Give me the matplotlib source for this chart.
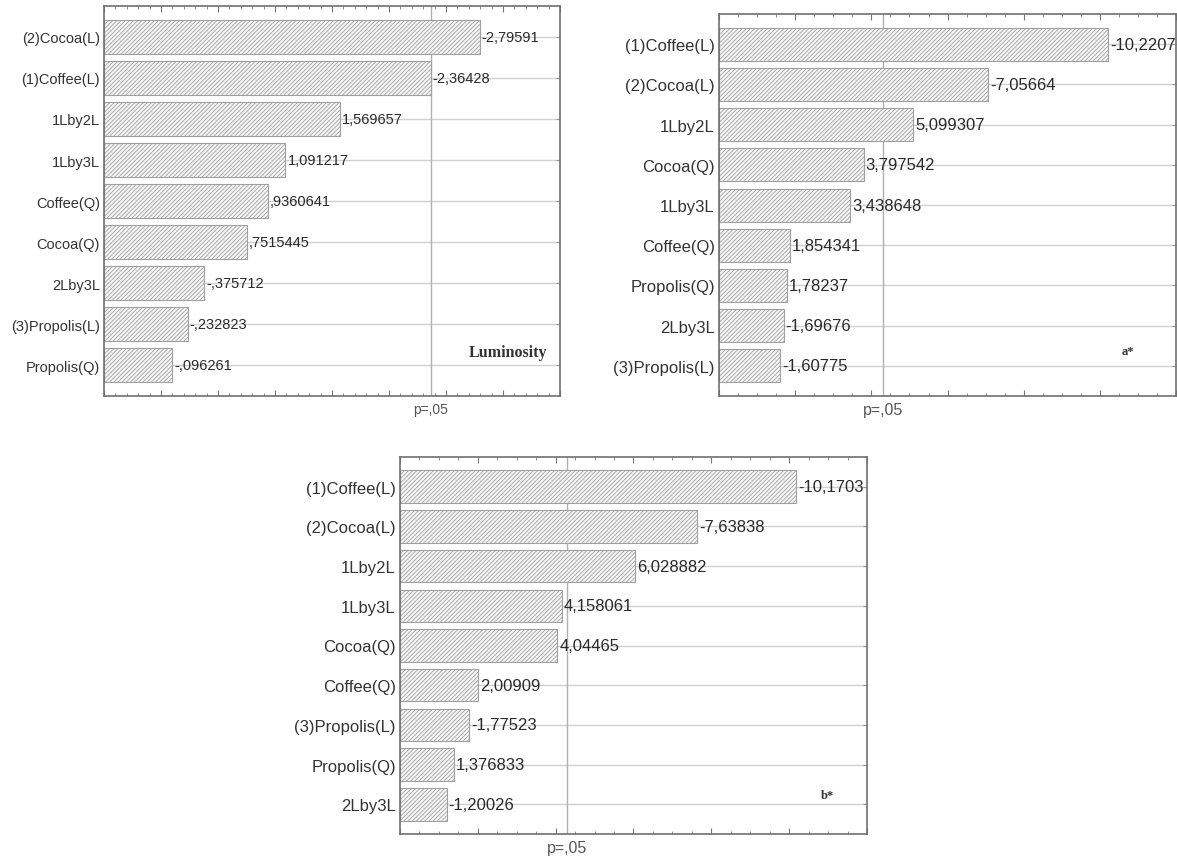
import numpy as np
import matplotlib
matplotlib.use("Agg")
import matplotlib.pyplot as plt
from matplotlib.ticker import MultipleLocator
import matplotlib.transforms as mtransforms

plt.rcParams['font.family'] = ['Liberation Sans', 'DejaVu Sans']
plt.rcParams['hatch.linewidth'] = 0.6
plt.rcParams['hatch.color'] = '#959595'

# Pareto charts of standardized effects (absolute value drawn, signed value printed)
lum_terms = ['(2)Cocoa(L)', '(1)Coffee(L)', '1Lby2L', '1Lby3L', 'Coffee(Q)',
             'Cocoa(Q)', '2Lby3L', '(3)Propolis(L)', 'Propolis(Q)']
lum_effects = [-2.79591, -2.36428, 1.569657, 1.091217, 0.9360641,
               0.7515445, -0.375712, -0.232823, -0.096261]

a_terms = ['(1)Coffee(L)', '(2)Cocoa(L)', '1Lby2L', 'Cocoa(Q)', '1Lby3L',
           'Coffee(Q)', 'Propolis(Q)', '2Lby3L', '(3)Propolis(L)']
a_effects = [-10.2207, -7.05664, 5.099307, 3.797542, 3.438648,
             1.854341, 1.78237, -1.69676, -1.60775]

b_terms = ['(1)Coffee(L)', '(2)Cocoa(L)', '1Lby2L', '1Lby3L', 'Cocoa(Q)',
           'Coffee(Q)', '(3)Propolis(L)', 'Propolis(Q)', '2Lby3L']
b_effects = [-10.1703, -7.63838, 6.028882, 4.158061, 4.04465,
             2.00909, -1.77523, 1.376833, -1.20026]

# critical t values for p = .05
lum_pcrit = 2.3646
a_pcrit = 4.3027
b_pcrit = 4.3027


def stat_label(v):
    s = repr(v)
    if abs(v) < 1:
        s = s.replace('0.', '.', 1)
    return s.replace('.', ',')


def pareto(ax, terms, effects, pcrit, xlim, major, minor, tag, tag_xy,
           tag_size, fsize):
    y = np.arange(len(terms))
    vals = np.abs(np.array(effects))
    x0 = xlim[0]
    ax.set_xlim(*xlim)
    ax.set_ylim(len(terms) - 0.25, -0.75)
    for yy in y:
        ax.axhline(yy, color='#d0d0d0', lw=1.0, zorder=0)
    ax.axvline(pcrit, color='#b0b0b0', lw=1.0, zorder=0)
    ax.barh(y, vals - x0, left=x0, height=0.82, color='#f7f7f7',
            edgecolor='#a0a0a0', hatch='////////', lw=0.8, zorder=2)
    for yy, v, e in zip(y, vals, effects):
        ax.annotate(stat_label(e), (v, yy), xytext=(1.5, 0),
                    textcoords='offset points', va='center', ha='left',
                    fontsize=fsize, color='#2a2a2a', zorder=3,
                    annotation_clip=False)
    ax.set_yticks(y)
    ax.set_yticklabels(terms, fontsize=fsize, color='#333333')
    ax.xaxis.set_major_locator(MultipleLocator(major))
    ax.xaxis.set_minor_locator(MultipleLocator(minor))
    ax.tick_params(axis='x', which='both', direction='in', top=True,
                   bottom=True, labelbottom=False, colors='#777777')
    ax.tick_params(axis='x', which='major', length=4)
    ax.tick_params(axis='x', which='minor', length=2)
    ax.tick_params(axis='y', direction='in', length=3, right=True,
                   colors='#999999', labelcolor='#333333', pad=3)
    for sp in ax.spines.values():
        sp.set_color('#707070')
        sp.set_linewidth(1.2)
    trans = mtransforms.blended_transform_factory(ax.transData, ax.transAxes)
    ax.text(pcrit, -0.015, 'p=,05', transform=trans, ha='center', va='top',
            fontsize=fsize - 0.5, color='#555555')
    ax.text(tag_xy[0], tag_xy[1], tag, transform=ax.transAxes, ha='center',
            va='center', fontsize=tag_size, fontweight='bold',
            family=['Liberation Serif', 'DejaVu Serif'], color='#333333')


fig = plt.figure(figsize=(11.77, 8.62), dpi=100)
ax1 = fig.add_axes([0.0884, 0.5394, 0.3874, 0.4524])
ax2 = fig.add_axes([0.6109, 0.5394, 0.3883, 0.4432])
ax3 = fig.add_axes([0.3398, 0.0313, 0.3968, 0.4374])

pareto(ax1, lum_terms, lum_effects, lum_pcrit, (-0.5, 3.5), 0.5, 0.1,
       'Luminosity', (0.885, 0.113), 11.5, 10.5)
pareto(ax2, a_terms, a_effects, a_pcrit, (0, 12), 2, 0.5,
       'a*', (0.895, 0.118), 9, 12)
pareto(ax3, b_terms, b_effects, b_pcrit, (0, 12), 2, 0.5,
       'b*', (0.915, 0.103), 9, 12)

fig.savefig('out.png', dpi=100)
